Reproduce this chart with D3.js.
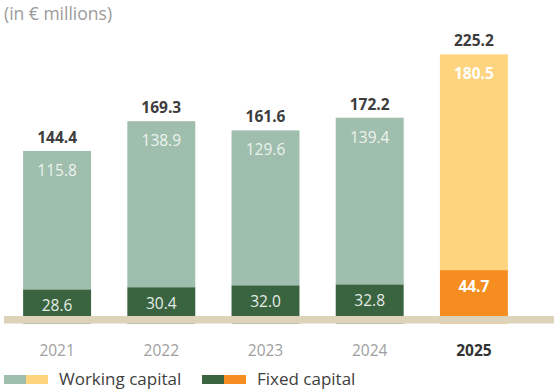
<!DOCTYPE html>
<html>
<head>
<meta charset="utf-8">
<script src="https://cdn.jsdelivr.net/npm/d3@7"></script>
<style>
  body { margin: 0; background: #fff; }
  svg { display: block; font-family: "Open Sans", sans-serif; }
</style>
</head>
<body>
<svg id="chart" width="554" height="392"></svg>
<script>
const years = ["2021", "2022", "2023", "2024", "2025"];
const workingCapital = [115.8, 138.9, 129.6, 139.4, 180.5];
const fixedCapital = [28.6, 30.4, 32.0, 32.8, 44.7];
const totals = [144.4, 169.3, 161.6, 172.2, 225.2];
const highlightYear = "2025";

const colors = {
  working: "#9fbead",
  workingHi: "#fed47e",
  fixed: "#3a6440",
  fixedHi: "#f68d21",
  base: "#dcd3b9"
};

const svg = d3.select("#chart");
const zeroY = 323.5;

const x = d3.scaleBand()
  .domain(years)
  .range([5, 526])
  .paddingInner(0.348)
  .paddingOuter(0.174);

const y = d3.scaleLinear()
  .domain([0, 225.2])
  .range([zeroY, zeroY - 269.1]);

const rows = years.map((yr, i) => ({
  year: yr,
  working: workingCapital[i],
  fixed: fixedCapital[i],
  total: totals[i],
  hi: yr === highlightYear
}));

// Title
svg.append("text")
  .attr("x", 4).attr("y", 20)
  .attr("font-size", 17.5)
  .attr("fill", "#9b9b9b")
  .text("(in € millions)");

// Stacked bars
const g = svg.append("g");
const bar = g.selectAll("g.bar").data(rows).join("g").attr("class", "bar");

bar.append("rect")
  .attr("x", d => x(d.year))
  .attr("width", x.bandwidth())
  .attr("y", d => y(d.fixed))
  .attr("height", d => y(0) - y(d.fixed))
  .attr("fill", d => d.hi ? colors.fixedHi : colors.fixed);

bar.append("rect")
  .attr("x", d => x(d.year))
  .attr("width", x.bandwidth())
  .attr("y", d => y(d.fixed + d.working))
  .attr("height", d => y(d.fixed) - y(d.fixed + d.working))
  .attr("fill", d => d.hi ? colors.workingHi : colors.working);

// Segment values
bar.append("text")
  .attr("x", d => x(d.year) + x.bandwidth() / 2)
  .attr("y", d => y(d.fixed + d.working) + 25)
  .attr("text-anchor", "middle")
  .attr("font-size", 15.5)
  .attr("font-weight", d => d.hi ? 700 : 400)
  .attr("fill", d => d.hi ? "#ffffff" : "#eef3f0")
  .text(d => d3.format(".1f")(d.working));

bar.append("text")
  .attr("x", d => x(d.year) + x.bandwidth() / 2)
  .attr("y", d => y(d.fixed) + 22)
  .attr("text-anchor", "middle")
  .attr("font-size", 15.5)
  .attr("font-weight", d => d.hi ? 700 : 400)
  .attr("fill", d => d.hi ? "#ffffff" : "#e6ece8")
  .text(d => d3.format(".1f")(d.fixed));

// Totals
bar.append("text")
  .attr("x", d => x(d.year) + x.bandwidth() / 2)
  .attr("y", d => y(d.total) - 8)
  .attr("text-anchor", "middle")
  .attr("font-size", 15.5)
  .attr("font-weight", 700)
  .attr("fill", "#3d3d3d")
  .text(d => d3.format(".1f")(d.total));

// Base band
svg.append("rect")
  .attr("x", 4).attr("y", 316)
  .attr("width", 550).attr("height", 7.5)
  .attr("fill", colors.base);

// Year axis
const axis = svg.append("g")
  .attr("transform", `translate(0,${zeroY})`)
  .call(d3.axisBottom(x).tickSize(0).tickPadding(21));
axis.select(".domain").remove();
axis.selectAll("text")
  .attr("font-family", "'Open Sans', sans-serif")
  .attr("font-size", 15.5)
  .attr("fill", d => d === highlightYear ? "#333" : "#a0a0a0")
  .attr("font-weight", d => d === highlightYear ? 700 : 400);

// Legend
const legend = svg.append("g").attr("transform", "translate(0,375)");
const legendItems = [
  { label: "Working capital", c1: colors.working, c2: colors.workingHi, x: 4 },
  { label: "Fixed capital", c1: colors.fixed, c2: colors.fixedHi, x: 202 }
];
legendItems.forEach(it => {
  legend.append("rect").attr("x", it.x).attr("y", 0).attr("width", 22).attr("height", 9).attr("fill", it.c1);
  legend.append("rect").attr("x", it.x + 22).attr("y", 0).attr("width", 22).attr("height", 9).attr("fill", it.c2);
  legend.append("text")
    .attr("x", it.x + 55).attr("y", 10)
    .attr("font-size", 17)
    .attr("fill", "#404040")
    .text(it.label);
});
</script>
</body>
</html>
